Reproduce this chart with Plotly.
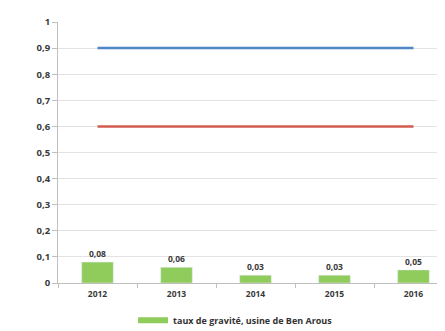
import plotly.graph_objects as go

years = ["2012", "2013", "2014", "2015", "2016"]
taux_gravite = [0.08, 0.06, 0.03, 0.03, 0.05]
seuil_haut = [0.9, 0.9, 0.9, 0.9, 0.9]
seuil_bas = [0.6, 0.6, 0.6, 0.6, 0.6]
y_ticks = [0, 0.1, 0.2, 0.3, 0.4, 0.5, 0.6, 0.7, 0.8, 0.9, 1]
y_labels = ["0", "0,1", "0,2", "0,3", "0,4", "0,5", "0,6", "0,7", "0,8", "0,9", "1"]
legend_name = "taux de gravité, usine de Ben Arous"

green = "#8fcc5c"
txt = "#3a3a3a"
tfont = dict(family="Open Sans", size=8.5, color=txt, weight="bold")
yfont = dict(family="Open Sans", size=9.5, color=txt, weight="bold")

fig = go.Figure()
fig.add_trace(go.Bar(
    x=years, y=taux_gravite, width=0.4, marker=dict(color=green),
    text=[f"{v:.2f}".replace(".", ",") for v in taux_gravite],
    textposition="outside", textfont=tfont,
    cliponaxis=False, showlegend=False,
))
fig.add_trace(go.Scatter(x=years, y=seuil_haut, mode="lines",
                         line=dict(color="#4f86c6", width=2.5), showlegend=False))
fig.add_trace(go.Scatter(x=years, y=seuil_bas, mode="lines",
                         line=dict(color="#d45b4f", width=2.5), showlegend=False))
# legend entry (wide swatch)
fig.add_trace(go.Scatter(x=[None], y=[None], mode="lines", name=legend_name,
                         line=dict(color=green, width=6), showlegend=True))

fig.update_layout(
    width=445, height=331,
    margin=dict(l=50, r=0, t=14, b=56, autoexpand=False),
    paper_bgcolor="white", plot_bgcolor="white",
    font=tfont,
    bargap=0.6,
    showlegend=True,
    legend=dict(orientation="h", x=0.281, xanchor="left", xref="container",
                y=0.057, yanchor="middle", yref="container",
                font=dict(family="Open Sans", size=9, color="#333333"),
                itemwidth=30, tracegroupgap=0),
    xaxis=dict(type="category", range=[-0.5, 4.5], showgrid=False, automargin=False,
               showline=True, linecolor="#bfbfbf", linewidth=1,
               ticks="outside", tickson="boundaries", ticklen=4, tickcolor="#bfbfbf",
               ticklabelstandoff=3, tickfont=tfont),
    yaxis=dict(range=[0, 1], tickvals=y_ticks, ticktext=y_labels, automargin=False,
               showgrid=True, gridcolor="#e3e3e3", gridwidth=1,
               showline=True, linecolor="#bfbfbf", linewidth=1,
               ticks="outside", ticklen=5, tickcolor="#bfbfbf",
               zeroline=False, tickfont=yfont),
)

fig.write_html("out.html")
